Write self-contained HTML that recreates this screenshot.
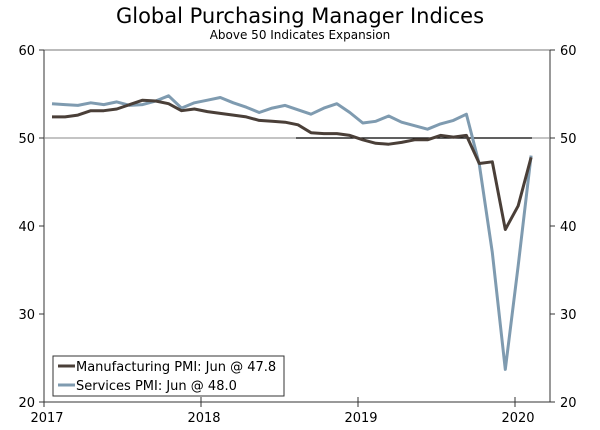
<!DOCTYPE html>
<html><head><meta charset="utf-8"><style>
html,body{margin:0;padding:0;background:#fff;}
svg{display:block;font-family:"DejaVu Sans","Liberation Sans",sans-serif;}
</style></head><body>
<svg id="chart" width="600" height="430" xmlns="http://www.w3.org/2000/svg">
<text x="300" y="23" text-anchor="middle" font-size="21" fill="#000">Global Purchasing Manager Indices</text>
<text x="300" y="39" text-anchor="middle" font-size="12" fill="#000">Above 50 Indicates Expansion</text>
<g id="axes"></g>
<g id="series"></g>
<g>
<rect x="53" y="356" width="231" height="40" fill="#fff" stroke="#333" stroke-width="1"/>
<line x1="58" y1="366" x2="75" y2="366" stroke="#4a3f38" stroke-width="3"/>
<text x="76" y="371" font-size="13" fill="#000">Manufacturing PMI: Jun @ 47.8</text>
<line x1="58" y1="385" x2="75" y2="385" stroke="#7f9bb0" stroke-width="3"/>
<text x="76" y="390" font-size="13" fill="#000">Services PMI: Jun @ 48.0</text>
</g>
</svg>
<script>
const yTicks = [20, 30, 40, 50, 60];
const xLabels = ["2017", "2018", "2019", "2020"];
const manufacturing = [52.4,52.4,52.6,53.1,53.1,53.3,53.8,54.3,54.2,53.9,53.1,53.3,53.0,52.8,52.6,52.4,52.0,51.9,51.8,51.5,50.6,50.5,50.5,50.3,49.8,49.4,49.3,49.5,49.8,49.8,50.3,50.1,50.3,47.1,47.3,39.6,42.3,47.8];
const services = [53.9,53.8,53.7,54.0,53.8,54.1,53.7,53.8,54.2,54.8,53.4,54.0,54.3,54.6,54.0,53.5,52.9,53.4,53.7,53.2,52.7,53.4,53.9,52.9,51.7,51.9,52.5,51.8,51.4,51.0,51.6,52.0,52.7,47.0,37.0,23.7,35.5,48.0];

(function(){
const NS = "http://www.w3.org/2000/svg";
const L = 44, R = 550, T = 50, B = 402;
const yScale = v => B - (v - 20) / 40 * (B - T);
const xScale = i => 52 + i * 12.95;
const yearX = k => 44 + k * 157;
function mk(tag, attrs, parent) {
  const e = document.createElementNS(NS, tag);
  for (const k in attrs) e.setAttribute(k, attrs[k]);
  parent.appendChild(e);
  return e;
}
const axes = document.getElementById("axes");
const topBorder = mk("line", {x1:L, y1:T, x2:R, y2:T, stroke:"#777", "stroke-width":1}, axes);


const la = mk("line", {x1:L, y1:T, x2:L, y2:B, stroke:"#333", "stroke-width":1}, axes);


const ra = mk("line", {x1:R, y1:T, x2:R, y2:B, stroke:"#333", "stroke-width":1}, axes);


const xa = mk("line", {x1:L, y1:B, x2:R, y2:B, stroke:"#333", "stroke-width":1}, axes);


const g50 = mk("line", {x1:L, y1:yScale(50), x2:R, y2:yScale(50), stroke:"#888", "stroke-width":1}, axes);


const ref = mk("line", {x1:296, y1:yScale(50), x2:532, y2:yScale(50), stroke:"#000", "stroke-width":1.3}, axes);


yTicks.forEach(v => {
  const y = yScale(v);
  mk("line", {x1:L-5, y1:y, x2:L, y2:y, stroke:"#333"}, axes);
  mk("line", {x1:R, y1:y, x2:R+5, y2:y, stroke:"#333"}, axes);
  const t1 = mk("text", {x:L-9, y:y+5, "text-anchor":"end", "font-size":13}, axes);
  t1.textContent = v;
  
  
  const t2 = mk("text", {x:R+10, y:y+5, "text-anchor":"start", "font-size":13}, axes);
  t2.textContent = v;
  
  
});
xLabels.forEach((lab, k) => {
  const x = yearX(k);
  mk("line", {x1:x, y1:B-5, x2:x, y2:B+5, stroke:"#333"}, axes);
  const t = mk("text", {x:x+3, y:B+20, "text-anchor":"middle", "font-size":13}, axes);
  t.textContent = lab;
  
  
});
const series = document.getElementById("series");
function line(arr, color, name) {
  const d = arr.map((v, i) => (i ? "L" : "M") + xScale(i).toFixed(1) + "," + yScale(v).toFixed(1)).join(" ");
  const p = mk("path", {d:d, fill:"none", stroke:color, "stroke-width":3, "stroke-linejoin":"round"}, series);
  
  
}
line(services, "#7f9bb0", "services-pmi-line");
line(manufacturing, "#4a3f38", "manufacturing-pmi-line");
})();
</script>
</body></html>
